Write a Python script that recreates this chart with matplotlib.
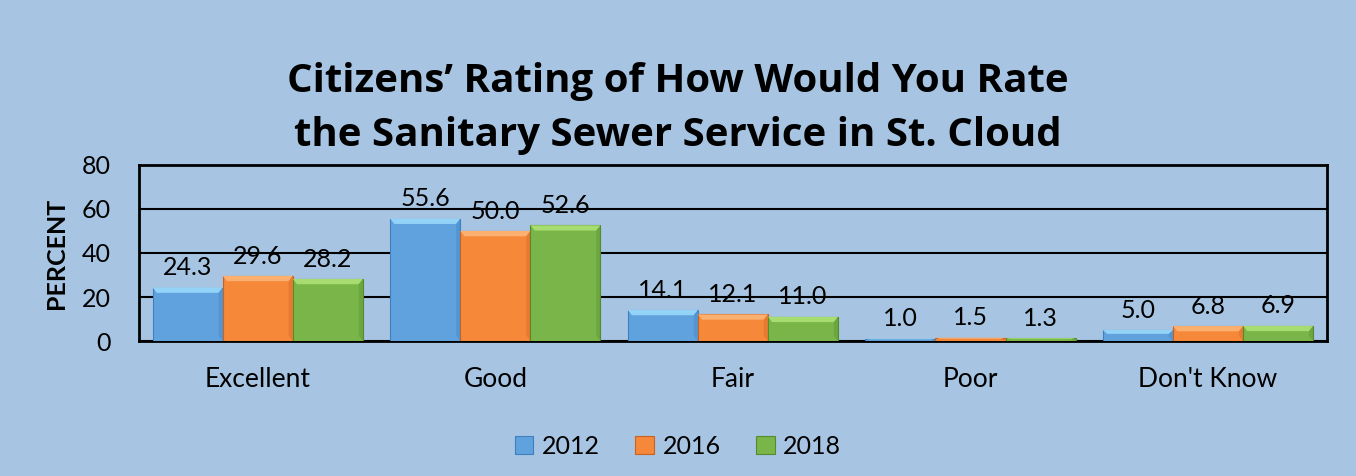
import matplotlib
matplotlib.use("Agg")
import matplotlib.pyplot as plt
import numpy as np
from matplotlib.patches import Polygon

categories = ["Excellent", "Good", "Fair", "Poor", "Don't Know"]
years = ["2012", "2016", "2018"]
v2012 = [24.3, 55.6, 14.1, 1.0, 5.0]
v2016 = [29.6, 50.0, 12.1, 1.5, 6.8]
v2018 = [28.2, 52.6, 11.0, 1.3, 6.9]
yticks = [0, 20, 40, 60, 80]

face = ["#5fa2de", "#f6883a", "#79b548"]
light = ["#93d3f7", "#fbb070", "#a6dc70"]
dark = ["#3f7fbf", "#c8621f", "#558a2e"]

plt.rcParams["font.family"] = ["Lato", "DejaVu Sans"]
bg = "#a7c5e2"

fig = plt.figure(figsize=(13.56, 4.76), dpi=100, facecolor=bg)
ax = fig.add_axes([0.1025, 0.2836, 0.876, 0.3698])
ax.set_facecolor(bg)

x = np.arange(len(categories))
w = 0.295
series = [v2012, v2016, v2018]
for i, vals in enumerate(series):
    bars = ax.bar(x + (i - 1) * w, vals, w, color=face[i], edgecolor=dark[i],
                  linewidth=0.8, zorder=3, label=years[i])
    for b, v in zip(bars, vals):
        x0, x1 = b.get_x(), b.get_x() + b.get_width()
        top = b.get_height()
        bev = min(2.4, top * 0.35)
        dx = b.get_width() * 0.06
        # bevel: light top, darker right side
        ax.add_patch(Polygon([[x0, top], [x1, top], [x1 - dx, top - bev], [x0 + dx, top - bev]],
                             closed=True, facecolor=light[i], edgecolor="none", zorder=4))
        if top > 2 * bev:
            ax.add_patch(Polygon([[x1, top], [x1, 0], [x1 - dx, bev], [x1 - dx, top - bev]],
                                 closed=True, facecolor=dark[i], edgecolor="none",
                                 alpha=0.35, zorder=4))
        ax.annotate(f"{v:.1f}", (b.get_x() + b.get_width() / 2, top), xytext=(0, 6),
                    textcoords="offset points", ha="center", va="bottom", fontsize=18, zorder=5)

ax.set_ylim(0, 80)
ax.set_xlim(-0.5, len(categories) - 0.5)
ax.set_yticks(yticks)
ax.tick_params(axis="y", labelsize=18, length=0, pad=20)
ax.tick_params(axis="x", labelsize=19, length=0, pad=19)
ax.set_xticks(x)
ax.set_xticklabels(categories)
ax.yaxis.grid(True, color="black", linewidth=1.5, zorder=0)
ax.set_axisbelow(True)
for s in ax.spines.values():
    s.set_color("black")
    s.set_linewidth(2)
ax.set_ylabel("PERCENT", fontsize=18, fontweight="bold", labelpad=10)

title_font = ["Open Sans", "DejaVu Sans"]
fig.text(0.5, 0.828, "Citizens’ Rating of How Would You Rate", ha="center", va="center",
         fontsize=29, fontweight="bold", family=title_font)
fig.text(0.5, 0.716, "the Sanitary Sewer Service in St. Cloud", ha="center", va="center",
         fontsize=29, fontweight="bold", family=title_font)

leg = fig.legend(loc="center", bbox_to_anchor=(0.5, 0.063), ncol=3, frameon=False,
                 fontsize=18, handlelength=0.75, handleheight=0.75, columnspacing=1.4,
                 handletextpad=0.35)

fig.savefig("out.png", dpi=100, facecolor=bg)
